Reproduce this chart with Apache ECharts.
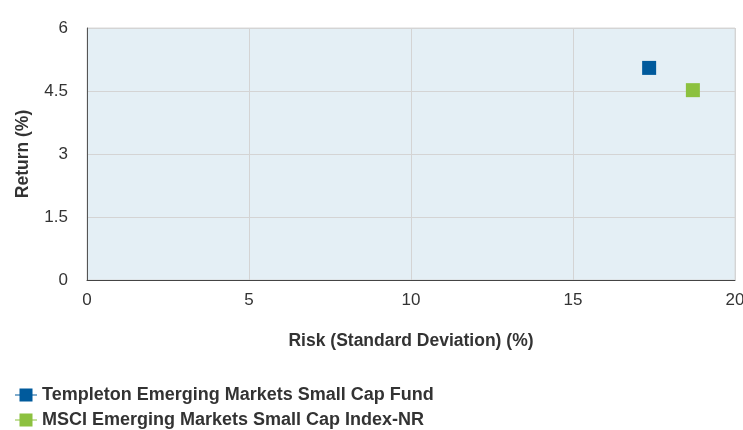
<!DOCTYPE html>
<html><head><meta charset="utf-8">
<script src="https://cdn.jsdelivr.net/npm/echarts@6/dist/echarts.min.js"></script>
<style>html,body{margin:0;padding:0;background:#fff}#c{width:743px;height:430px}</style>
</head><body><div id="c"></div>
<script>
const seriesNames = ["Templeton Emerging Markets Small Cap Fund", "MSCI Emerging Markets Small Cap Index-NR"];
const riskValues = [17.35, 18.7];
const returnValues = [5.05, 4.52];
const seriesColors = ["#005a9c", "#8cc13f"];
const xTicks = [0, 5, 10, 15, 20];
const yTicks = [0, 1.5, 3, 4.5, 6];

const FONT = '"Liberation Sans", Arial, sans-serif';
const chart = echarts.init(document.getElementById('c'));
const icon = 'path://M0,6H4.5V0H17.5V6H22V7H17.5V13H4.5V7H0Z';
const legendText = {fontFamily: FONT, fontWeight: 'bold', fontSize: 18, color: '#333'};
chart.setOption({
  animation: false,
  textStyle: {fontFamily: FONT},
  grid: {left: 87, right: 8, top: 28, bottom: 150, outerBoundsMode: 'none', containLabel: false,
         show: true, backgroundColor: '#e4eff5', borderColor: '#d8d8d8', borderWidth: 1},
  legend: seriesNames.map((n, i) => ({
    left: 10, top: 381 + i * 25, itemWidth: 22, itemHeight: 13, itemGap: 8,
    data: [{name: n, icon: icon}],
    textStyle: legendText
  })),
  xAxis: {
    type: 'value', min: xTicks[0], max: xTicks[xTicks.length - 1], interval: 5,
    name: 'Risk (Standard Deviation) (%)', nameLocation: 'middle', nameGap: 52,
    nameTextStyle: {fontFamily: FONT, fontWeight: 'bold', fontSize: 17.5, color: '#333'},
    axisLine: {lineStyle: {color: '#444', width: 1}},
    axisTick: {show: false},
    axisLabel: {fontFamily: FONT, fontSize: 17, color: '#333', margin: 12},
    splitLine: {lineStyle: {color: '#d4d4d4'}}
  },
  yAxis: {
    type: 'value', min: yTicks[0], max: yTicks[yTicks.length - 1], interval: 1.5,
    name: 'Return (%)', nameLocation: 'middle', nameGap: 55, nameRotate: 90,
    nameTextStyle: {fontFamily: FONT, fontWeight: 'bold', fontSize: 17.5, color: '#333'},
    axisLine: {show: true, lineStyle: {color: '#555', width: 1}},
    axisTick: {show: false},
    axisLabel: {fontFamily: FONT, fontSize: 17, color: '#333', margin: 19},
    splitLine: {lineStyle: {color: '#d4d4d4'}}
  },
  series: seriesNames.map((n, i) => ({
    name: n, type: 'scatter', symbol: 'rect', symbolSize: 14,
    itemStyle: {color: seriesColors[i], opacity: 1},
    data: [[riskValues[i], returnValues[i]]]
  }))
});
</script></body></html>
